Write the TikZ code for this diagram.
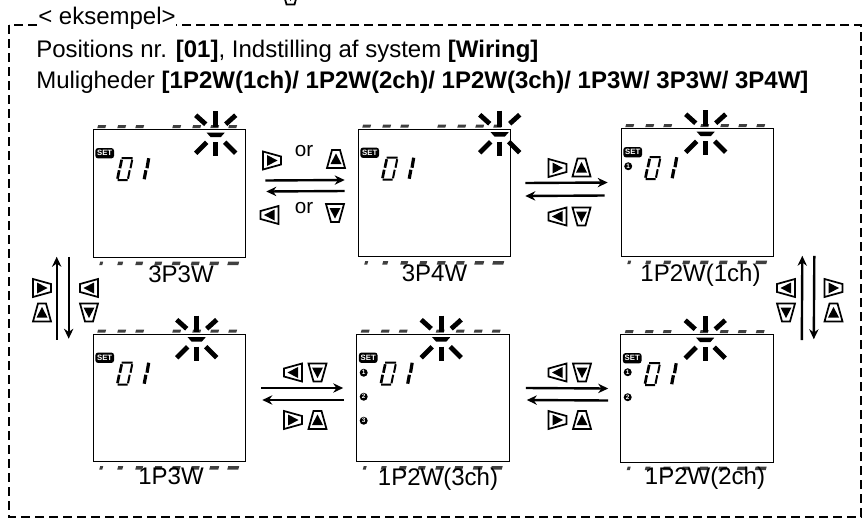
\documentclass[tikz,border=0pt]{standalone}
\usepackage{fontspec}
\setmainfont{Liberation Sans}
\usetikzlibrary{arrows.meta,calc,positioning}
\tikzset{
  screen/.style={draw=black,line width=0.8,rectangle,inner sep=0,minimum width=114.4pt,minimum height=95.6pt},
  flow/.style={color=black,line width=1.8,->,>={Stealth[length=7.5pt,width=7pt]}},
  maintext/.style={color=black,anchor=base west,inner sep=0,font=\fontsize{18}{20}\selectfont},
  screenlabel/.style={color=black,anchor=base,inner sep=0,font=\fontsize{18}{20}\selectfont},
  ortext/.style={color=black,anchor=base,inner sep=0,font=\fontsize{15.5}{17}\selectfont},
  lcdkey/.pic={
    \draw[line width=1.3,line join=miter] (-9,-9) -- (9,-4) -- (9,4) -- (-9,9) -- cycle;
    \fill (-5,-5.5) -- (5.5,0) -- (-5,5.5) -- cycle;
  }
}
% one screen: name, position of the blinking sign
\newcommand{\lcdparts}[2]{
\begin{scope}[shift={(#1.north west)}]
% marks above and below the frame
\foreach \mx in {9,29,47,84,104,122,140}
  \fill[black!75] (\mx-3.5,-4.2) -- (\mx+4.5,-4.2) -- (\mx+3.5,-1) -- (\mx-4.5,-1) -- cycle;
\foreach \mx/\mw in {9/1.5,28/2.5,47/3.5,66/3.5,84/4,103/4,122/4.5,141/5.5}
  \fill[black!75] (\mx-\mw,132.5) -- (\mx+\mw,132.5) -- (\mx+\mw-1,136) -- (\mx-\mw-1,136) -- cycle;
% blinking sign
\begin{scope}[shift={(#2,0)},line width=3.6]
\draw (0,-18) -- (0,-2);
\draw (0,13) -- (0,27);
\draw (-20,-14) -- (-10,-5);
\draw (20,-14) -- (10,-5);
\draw (-20,24) -- (-9,13);
\draw (20,24) -- (9,13);
\fill (-9,3.5) -- (9,3.5) -- (5,8) -- (-5,8) -- cycle;
\end{scope}
% SET
\node[fill=black,rounded corners=2pt,text=white,inner sep=0,minimum width=14pt,minimum height=7.8pt,font=\bfseries\fontsize{5.8}{6}\selectfont] (set#1) at (12,24) {SET};
% digits
\draw[line width=1.5] (29,29) -- (40,29) (39.5,30.5) -- (37.8,39) (37,41) -- (35.3,49.5) (35,51) -- (25,51);
\draw[line width=2] (24.8,49.5) -- (26.5,41) (27.2,39) -- (29,30.5);
\draw[line width=2.4] (56,29) -- (54.3,39) (53.2,41) -- (51.5,50);
\end{scope}
}
\newcommand{\lcdbullet}[3]{
\node[circle,fill=black,text=white,inner sep=0,minimum size=6pt,font=\bfseries\fontsize{4.8}{5}\selectfont] (bullet#1#2) at ($(#1.north west)+(7.5,#3)$) {#2};
}

\begin{document}
\begin{tikzpicture}[x=0.75pt,y=-0.75pt]
\useasboundingbox (0,0) rectangle (866,521);
% Frame
\draw[color=black,line width=1,dash pattern=on 6.5pt off 4pt] (9,25) rectangle (861,517);
\node[maintext,fill=white] (title) at (38,24) {< eksempel>};
\node[maintext] (line1) at (36,57) {Positions nr. \textbf{[01]}, Indstilling af system \textbf{[Wiring]}};
\node[maintext] (line2) at (36,88) {Muligheder \textbf{[1P2W(1ch)/ 1P2W(2ch)/ 1P2W(3ch)/ 1P3W/ 3P3W/ 3P4W]}};
% Screens
\node[screen] (screenA) at (169.5,193.5) {};
\node[screen] (screenB) at (434.5,193) {};
\node[screen] (screenC) at (697.5,192.5) {};
\node[screen] (screenD) at (169.5,398) {};
\node[screen] (screenE) at (433,398) {};
\node[screen] (screenF) at (697,398.5) {};
\lcdparts{screenA}{123}
\lcdparts{screenB}{142}
\lcdparts{screenC}{85}
\lcdparts{screenD}{104}
\lcdparts{screenE}{85}
\lcdparts{screenF}{85}
\lcdbullet{screenC}{1}{38}
\lcdbullet{screenE}{1}{39}
\lcdbullet{screenE}{2}{63}
\lcdbullet{screenE}{3}{87}
\lcdbullet{screenF}{1}{38}
\lcdbullet{screenF}{2}{63}
% Labels
\node[screenlabel] (labelA) at ($(screenA.south)+(11.5,25)$) {3P3W};
\node[screenlabel] (labelB) at ($(screenB.south)+(0,24)$) {3P4W};
\node[screenlabel] (labelC) at ($(screenC.south)+(3,25)$) {1P2W(1ch)};
\node[screenlabel] (labelD) at ($(screenD.south)+(1.5,22.5)$) {1P3W};
\node[screenlabel] (labelE) at ($(screenE.south)+(5,23)$) {1P2W(3ch)};
\node[screenlabel] (labelF) at ($(screenF.south)+(8,22)$) {1P2W(2ch)};
% Arrows top row
\draw[flow] ($(screenA.east)+(19,-13)$) -- ($(screenB.west)+(-13,-13)$);
\draw[flow] ($(screenB.west)+(-13,-2)$) -- ($(screenA.east)+(20,-2)$);
\draw[flow] ($(screenB.east)+(14,-10)$) -- ($(screenC.west)+(-13,-10)$);
\draw[flow] ($(screenC.west)+(-16,3)$) -- ($(screenB.east)+(14,3)$);
% Arrows bottom row
\draw[flow] ($(screenD.east)+(15,-10)$) -- ($(screenE.west)+(-13,-10)$);
\draw[flow] ($(screenE.west)+(-12,2)$) -- ($(screenD.east)+(16,2)$);
\draw[flow] ($(screenE.east)+(16,-10)$) -- ($(screenF.west)+(-12,-10)$);
\draw[flow] ($(screenF.west)+(-12,2)$) -- ($(screenE.east)+(17,2)$);
% Arrows left and right
\draw[flow] ($(screenD.north west)+(-36,6)$) -- ($(screenA.south west)+(-36,-1)$);
\draw[flow] ($(screenA.south west)+(-24,-1)$) -- ($(screenD.north west)+(-24,5)$);
\draw[flow] ($(screenF.north east)+(28,6)$) -- ($(screenC.south east)+(28,-1)$);
\draw[flow] ($(screenC.south east)+(40,-1)$) -- ($(screenF.north east)+(40,5)$);
% Keys
\foreach \kx/\ky/\kdir in {272/160.5/0,336/159/90,269.5/215/180,335/213/270,
    557.5/168/0,581.5/167.5/90,557.5/216.5/180,581.5/216.5/270,
    42/288/0,42/312.5/90,89/288/180,89/312.5/270,
    786/288/180,786/312.5/270,833.5/288/0,833.5/312.5/90,
    293/372.5/180,317.5/372.5/270,293/420/0,317.5/420/90,
    557.5/372.5/180,582/372.5/270,557.5/420/0,582/420/90,
    290.5/-4.5/270}
  \pic[rotate=\kdir] at (\kx,\ky) {lcdkey};
% or
\node[ortext] (orA) at (304,156) {or};
\node[ortext] (orB) at (304,213) {or};
\end{tikzpicture}
\end{document}
